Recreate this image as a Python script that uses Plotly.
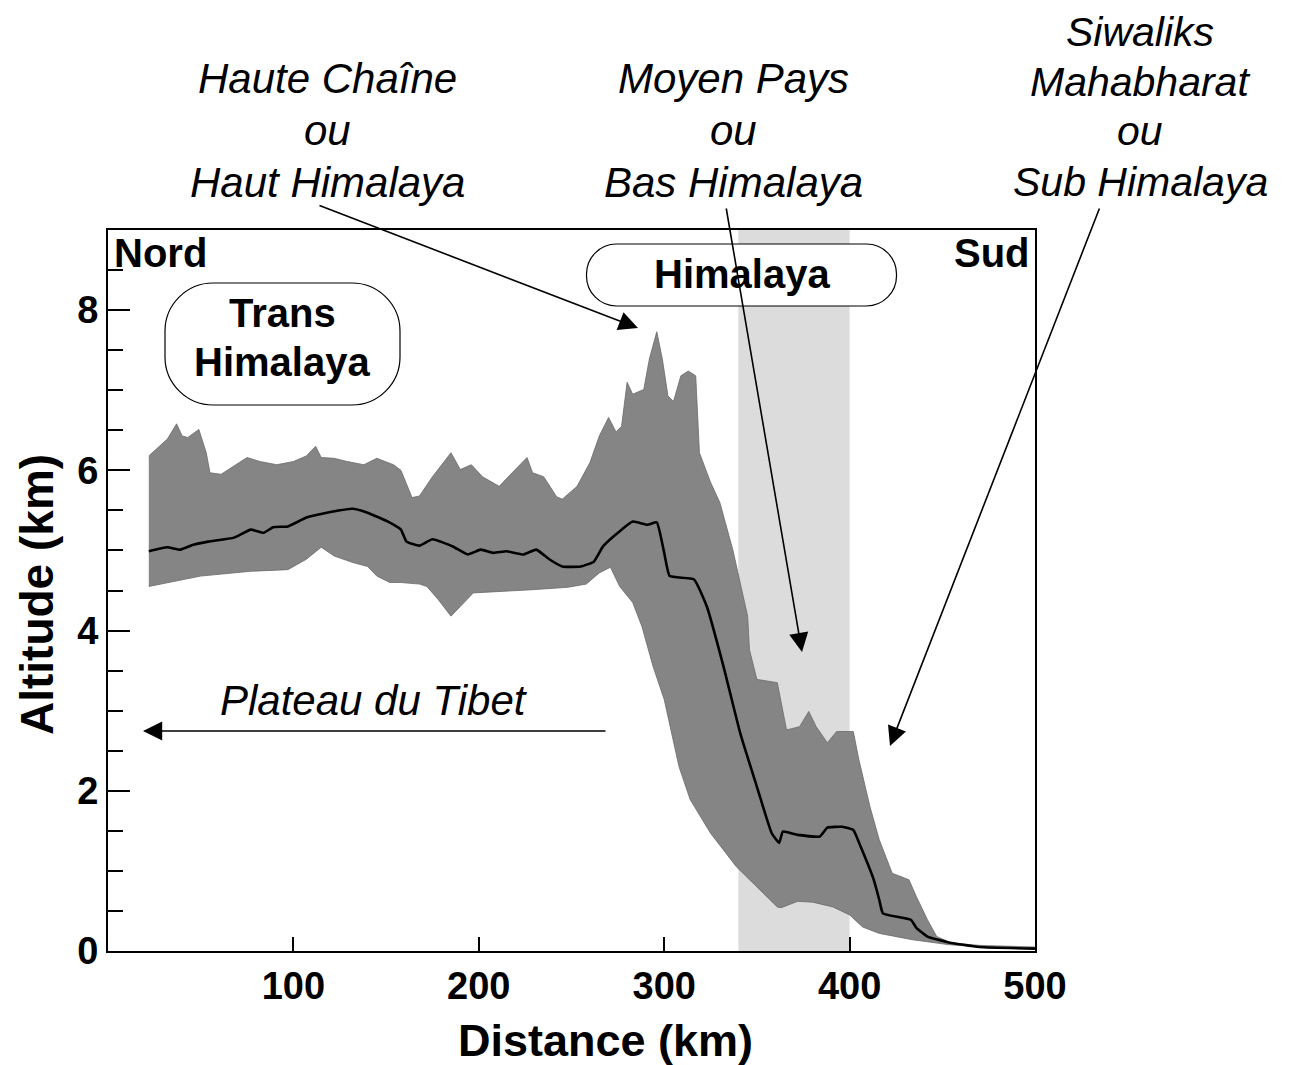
import plotly.graph_objects as go

# ---- data (distance in km, altitude in km) ----
dist_max = [22, 26, 32, 37, 40, 43, 49, 53, 55, 61, 68, 75, 82, 91, 100, 107, 112, 115, 122, 129,
            138, 145, 154, 158, 164, 168, 175, 185, 190, 196, 202, 211, 218, 226, 229, 235, 242, 245,
            253, 260, 265, 270, 274, 277, 280, 283, 289, 292, 296, 299, 302, 305, 309, 313, 317, 319,
            325, 330, 337, 341, 345, 346, 350, 361, 364, 366, 373, 378, 382, 388, 393, 402, 405, 411,
            416, 423, 432, 436, 442, 447, 455, 470, 485, 500]
alt_max = [6.18, 6.26, 6.39, 6.58, 6.43, 6.41, 6.51, 6.22, 5.97, 5.95, 6.05, 6.16, 6.11, 6.07, 6.11,
           6.18, 6.30, 6.16, 6.15, 6.11, 6.07, 6.15, 6.07, 6.00, 5.66, 5.68, 5.92, 6.22, 6.01, 6.07,
           5.92, 5.80, 5.97, 6.16, 5.97, 5.92, 5.67, 5.64, 5.80, 6.10, 6.43, 6.66, 6.48, 6.55, 7.10,
           6.95, 7.01, 7.39, 7.73, 7.39, 6.93, 6.86, 7.18, 7.24, 7.18, 6.22, 5.85, 5.60, 5.01, 4.60,
           4.18, 3.76, 3.39, 3.35, 2.97, 2.76, 2.80, 2.99, 2.80, 2.60, 2.74, 2.74, 2.39, 1.80, 1.39,
           0.97, 0.89, 0.68, 0.39, 0.18, 0.10, 0.07, 0.06, 0.05]

dist_min = [22, 50, 77, 97, 107, 115, 122, 132, 140, 145, 152, 158, 168, 172, 178, 185, 190, 197,
            212, 229, 248, 258, 265, 271, 276, 283, 288, 294, 300, 304, 308, 314, 325, 339, 350, 361,
            363, 372, 380, 391, 400, 407, 416, 434, 453, 470, 500]
alt_min = [4.55, 4.68, 4.74, 4.76, 4.89, 5.04, 4.93, 4.85, 4.80, 4.68, 4.60, 4.60, 4.58, 4.55, 4.39,
           4.18, 4.30, 4.47, 4.49, 4.51, 4.54, 4.58, 4.72, 4.79, 4.55, 4.35, 4.05, 3.55, 3.14, 2.72,
           2.30, 1.89, 1.47, 1.05, 0.80, 0.55, 0.54, 0.62, 0.61, 0.55, 0.45, 0.30, 0.22, 0.14, 0.08,
           0.05, 0.03]

dist_mean = [22, 32, 39, 46, 54, 68, 77, 84, 89, 97, 107, 118, 132, 140, 151, 158, 161, 168, 175,
             186, 194, 201, 208, 215, 224, 231, 238, 245, 255, 262, 267, 275, 283, 291, 296, 300,
             303, 316, 323, 332, 341, 350, 358, 362, 364, 372, 384, 388, 396, 402, 406, 413, 416,
             418, 433, 436, 442, 453, 470, 500]
alt_mean = [4.99, 5.04, 5.01, 5.07, 5.11, 5.16, 5.26, 5.22, 5.29, 5.30, 5.41, 5.47, 5.52, 5.47, 5.36,
            5.26, 5.11, 5.06, 5.14, 5.05, 4.95, 5.01, 4.97, 4.99, 4.95, 5.01, 4.89, 4.80, 4.80, 4.86,
            5.05, 5.22, 5.36, 5.32, 5.35, 4.97, 4.68, 4.64, 4.30, 3.55, 2.72, 2.05, 1.47, 1.35, 1.49,
            1.45, 1.43, 1.54, 1.55, 1.51, 1.30, 0.89, 0.64, 0.47, 0.39, 0.29, 0.18, 0.11, 0.05, 0.03]

# Moyen Pays zone (shaded band)
band = [340, 400]

x_ticks = [100, 200, 300, 400, 500]
y_ticks = [0, 2, 4, 6, 8]

haut_lines = ["Haute Chaîne", "ou", "Haut Himalaya"]
moyen_lines = ["Moyen Pays", "ou", "Bas Himalaya"]
sub_lines = ["Siwaliks", "Mahabharat", "ou", "Sub Himalaya"]

FONT = "Liberation Sans, Arial, Helvetica, sans-serif"
W, H = 1290, 1065
L, R, T, B = 108, 1035, 230, 951   # plot area in pixels
PAGE = 8                            # browser body margin
X_RANGE = [0, 500]
Y_RANGE = [0, 9]


def px(x, y):
    # pixel -> paper coords
    return (x - L) / (R - L), (B - y) / (B - T)


def data_x(x):
    return X_RANGE[0] + (x - L) / (R - L) * (X_RANGE[1] - X_RANGE[0])


def data_y(y):
    return Y_RANGE[0] + (B - y) / (B - T) * (Y_RANGE[1] - Y_RANGE[0])


def rounded_box(w, h, r):
    # path in pixel units relative to anchor (y up)
    x0, x1, y0, y1 = -w / 2, w / 2, -h / 2, h / 2
    k = 0.55 * r
    return (f"M{x0 + r},{y1} L{x1 - r},{y1} C{x1 - r + k},{y1} {x1},{y1 - r + k} {x1},{y1 - r} "
            f"L{x1},{y0 + r} C{x1},{y0 + r - k} {x1 - r + k},{y0} {x1 - r},{y0} "
            f"L{x0 + r},{y0} C{x0 + r - k},{y0} {x0},{y0 + r - k} {x0},{y0 + r} "
            f"L{x0},{y1 - r} C{x0},{y1 - r + k} {x0 + r - k},{y1} {x0 + r},{y1} Z")


fig = go.Figure()

fig.add_trace(go.Scatter(x=dist_max + dist_min[::-1], y=alt_max + alt_min[::-1], fill='toself',
                         fillcolor='#858585', line=dict(color='#6a6a6a', width=0.8),
                         mode='lines', hoverinfo='skip', showlegend=False))
fig.add_trace(go.Scatter(x=dist_mean, y=alt_mean, mode='lines',
                         line=dict(color='black', width=2.6, shape='spline', smoothing=0.4),
                         showlegend=False))

shapes = [
    dict(type='rect', xref='x', yref='paper', x0=band[0], x1=band[1], y0=0, y1=1,
         fillcolor='#dcdcdc', line_width=0, layer='below'),
    dict(type='path', xref='x', yref='y', xsizemode='pixel', ysizemode='pixel',
         xanchor=data_x(282.5), yanchor=data_y(344), path=rounded_box(235, 122, 48),
         line=dict(color='black', width=1.2), fillcolor='rgba(255,255,255,0)'),
    dict(type='path', xref='x', yref='y', xsizemode='pixel', ysizemode='pixel',
         xanchor=data_x(741.5), yanchor=data_y(275), path=rounded_box(310, 62, 30),
         line=dict(color='black', width=1.2), fillcolor='white'),
]

ann = []


def text(x, y, s, size=40, xanchor='center', italic=False, bold=False, angle=0):
    px_x, px_y = px(x, y)
    if bold:
        s = f"<b>{s}</b>"
    if italic:
        s = f"<i>{s}</i>"
    ann.append(dict(xref='paper', yref='paper', x=px_x, y=px_y, text=s, showarrow=False,
                    xanchor=xanchor, yanchor='middle', textangle=angle,
                    font=dict(family=FONT, size=size, color='black')))


def arrow(tail, tip):
    ann.append(dict(xref='x', yref='y', x=data_x(tip[0]), y=data_y(tip[1]), text='',
                    showarrow=True, axref='pixel', ayref='pixel',
                    ax=tail[0] - tip[0], ay=tail[1] - tip[1],
                    arrowhead=2, arrowsize=2.4, arrowwidth=1.6, arrowcolor='black'))


for s, y in zip(haut_lines, [78, 130, 182]):
    text(327, y, s, size=42, italic=True)
for s, y in zip(moyen_lines, [78, 130, 182]):
    text(733, y, s, size=42, italic=True)
for s, y in zip(sub_lines, [32, 82, 131, 182]):
    text(1140, y, s, size=41, italic=True)

text(112, 253, "Nord", xanchor='left', bold=True)
text(1032, 253, "Sud", xanchor='right', bold=True)
text(282, 313, "Trans", bold=True)
text(282, 362, "Himalaya", bold=True)
text(742, 274, "Himalaya", bold=True)
text(374, 700, "Plateau du Tibet", size=42, italic=True)
text(605, 1040, "Distance (km)", size=45, bold=True)
text(37, 595, "Altitude (km)", size=46, bold=True, angle=-90)

arrow((318, 205), (638, 328))
arrow((726, 207), (802, 652))
arrow((1100, 207), (890, 746))
arrow((607, 731), (143, 731))

fig.update_layout(
    width=W - PAGE, height=H - PAGE,
    margin=dict(l=L - PAGE, r=W - R, t=T - PAGE, b=H - B),
    plot_bgcolor='white', paper_bgcolor='white',
    font=dict(family=FONT, color='black'),
    shapes=shapes, annotations=ann, showlegend=False,
)
fig.update_xaxes(range=X_RANGE, tickvals=x_ticks, ticks='inside', ticklen=14, tickwidth=2,
                 tickcolor='black', showline=True, linewidth=2, linecolor='black', mirror=True,
                 showgrid=False, zeroline=False,
                 tickfont=dict(family=FONT, size=38, color='black', weight='bold'))
fig.update_yaxes(range=Y_RANGE, tickvals=y_ticks, ticks='inside', ticklen=22, tickwidth=2,
                 tickcolor='black', showline=True, linewidth=2, linecolor='black', mirror=True,
                 showgrid=False, zeroline=False,
                 minor=dict(dtick=0.5, ticks='inside', ticklen=15, tickwidth=2, tickcolor='black'),
                 tickfont=dict(family=FONT, size=38, color='black', weight='bold'))

fig.write_html("out.html")
